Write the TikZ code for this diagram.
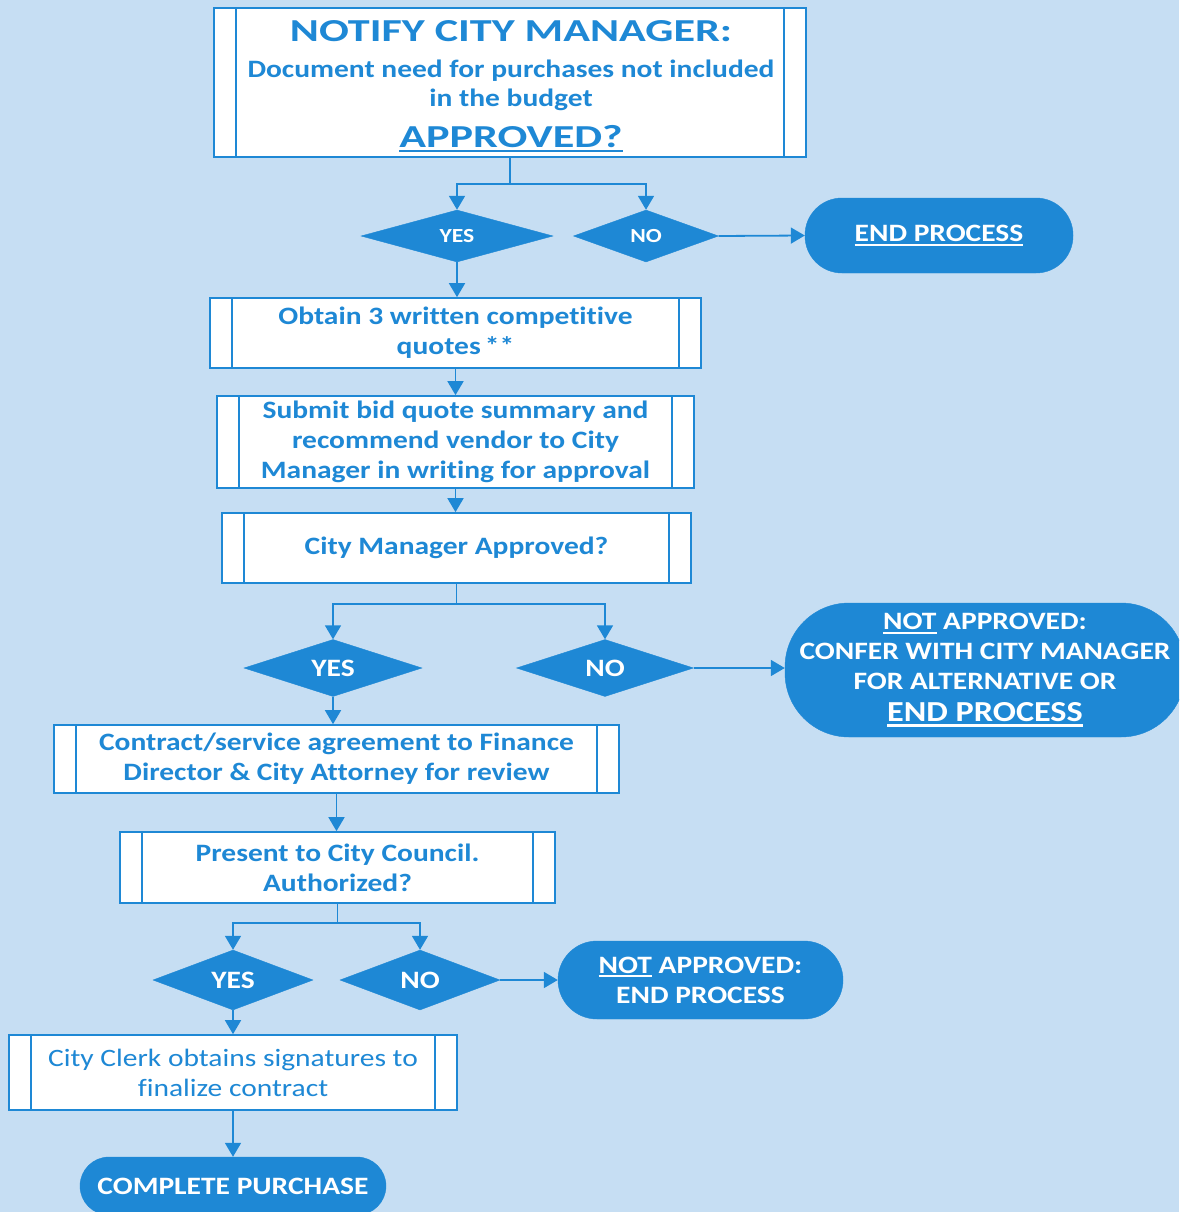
\documentclass[tikz,border=0pt]{standalone}
\usepackage{fontspec}
\setmainfont{Carlito}[FakeStretch=1.18, Ligatures={NoCommon}]
\newfontfamily\titlefont{Carlito}[FakeStretch=1.38, Ligatures={NoCommon}]
\usetikzlibrary{arrows.meta,shapes.geometric}
\definecolor{bg}{RGB}{198,222,243}
\definecolor{fc}{RGB}{30,136,213}
\newcommand\fs{\fontsize{25}{30}\selectfont}
\newsavebox\ulbox
\newcommand\myul[1]{\sbox\ulbox{#1}\usebox\ulbox\llap{\vrule width\wd\ulbox height -0.09em depth 0.16em}}
\newcommand\innerlines[1]{\draw[draw=fc, line width=1.4pt] ([xshift=23]#1.north west) -- ([xshift=23]#1.south west) ([xshift=-23]#1.north east) -- ([xshift=-23]#1.south east);}
\begin{document}
\begin{tikzpicture}[x=1pt,y=-1pt,
 proc/.style={draw=fc, line width=1.7pt, fill=white, text=fc, font=\fs\bfseries, align=center, inner sep=0pt},
 dia/.style={diamond, aspect=3, fill=fc, draw=fc, text=white, font=\fs\bfseries, inner sep=0pt},
 term/.style={fill=fc, draw=fc, text=white, font=\fs\bfseries, align=center, inner sep=0pt},
 arr/.style={draw=fc, line width=1.8pt, -{Triangle[width=16pt,length=14pt]}},
]
\useasboundingbox (0,0) rectangle (1179,1212);
\fill[bg] (0,0) rectangle (1179,1212);
\begin{scope}
\clip (0,0) rectangle (1179,1212);
% box 1
\node[proc, minimum width=592pt, minimum height=149pt] (b1) at (510,82.5) {};
\innerlines{b1}
\node[font=\titlefont\fontsize{32}{36}\selectfont\bfseries, text=fc, anchor=base, inner sep=0pt] (b1t) at (511,42) {NOTIFY CITY MANAGER:};
\node[font=\fs\bfseries, text=fc, anchor=base, inner sep=0pt] (b1a) at (511,78) {Document need for purchases not included};
\node[font=\fs\bfseries, text=fc, anchor=base, inner sep=0pt] (b1b) at (511,107) {in the budget};
\node[font=\titlefont\fontsize{32}{36}\selectfont\bfseries, text=fc, anchor=base, inner sep=0pt] (b1c) at (511,147) {\myul{APPROVED?}};
% process boxes
\node[proc, minimum width=491pt, minimum height=70pt] (b2) at (455.5,333) {Obtain 3 written competitive\\quotes\,**};
\innerlines{b2}
\node[proc, minimum width=477pt, minimum height=92pt] (b3) at (455.5,442) {Submit bid quote summary and\\recommend vendor to City\\Manager in writing for approval};
\innerlines{b3}
\node[proc, minimum width=469pt, minimum height=70pt] (b4) at (456.5,548) {City Manager Approved?};
\innerlines{b4}
\node[proc, minimum width=565pt, minimum height=68pt] (b5) at (336.5,759) {Contract/service agreement to Finance\\Director \& City Attorney for review};
\innerlines{b5}
\node[proc, minimum width=435pt, minimum height=71pt] (b6) at (337.5,867.5) {Present to City Council.\\Authorized?};
\innerlines{b6}
\node[proc, font=\fs, minimum width=448pt, minimum height=75pt] (b7) at (233,1072.5) {City Clerk obtains signatures to\\finalize contract};
\innerlines{b7}
% diamonds
\node[dia, font=\fontsize{20}{24}\selectfont\bfseries, minimum width=192pt, minimum height=52pt] (d1y) at (457,236) {YES};
\node[dia, font=\fontsize{20}{24}\selectfont\bfseries, minimum width=145pt, minimum height=52pt] (d1n) at (646,236) {NO};
\node[dia, minimum width=178pt, minimum height=57pt] (d2y) at (333,668) {YES};
\node[dia, minimum width=177pt, minimum height=57pt] (d2n) at (605,668) {NO};
\node[dia, minimum width=160pt, minimum height=60pt] (d3y) at (233,980) {YES};
\node[dia, minimum width=160pt, minimum height=60pt] (d3n) at (420,980) {NO};
% terminals
\node[term, rounded corners=37pt, minimum width=268pt, minimum height=75pt] (t1) at (939,235.5) {\raisebox{-3pt}{\myul{END PROCESS}}};
\node[term, rounded corners=64pt, minimum width=400pt, minimum height=134pt] (t2) at (985,670) {\myul{NOT} APPROVED:\\CONFER WITH CITY MANAGER\\FOR ALTERNATIVE OR\\[2pt]{\fontsize{29}{32}\selectfont\myul{END PROCESS}}};
\node[term, rounded corners=39pt, minimum width=285pt, minimum height=78pt] (t3) at (700.5,980) {\myul{NOT} APPROVED:\\END PROCESS};
\node[term, rounded corners=29pt, minimum width=306pt, minimum height=58pt] (t4) at (233,1186) {COMPLETE PURCHASE};
% connectors
\draw[arr] (b1.south) -- ++(0,26) -| (d1y.north);
\draw[arr] (b1.south) -- ++(0,26) -| (d1n.north);
\draw[arr] (d1n.east) -- (t1.west);
\draw[arr] (d1y.south) -- (d1y.south |- b2.north);
\draw[arr] (b2.south) -- (b3.north);
\draw[arr] (b3.south) -- (b3.south |- b4.north);
\draw[arr] (b4.south) -- ++(0,20) -| (d2y.north);
\draw[arr] (b4.south) -- ++(0,20) -| (d2n.north);
\draw[arr] (d2n.east) -- (d2n.east -| t2.west);
\draw[arr] (d2y.south) -- (d2y.south |- b5.north);
\draw[arr] (b5.south) -- (b5.south |- b6.north);
\draw[arr] (b6.south) -- ++(0,19) -| (d3y.north);
\draw[arr] (b6.south) -- ++(0,19) -| (d3n.north);
\draw[arr] (d3n.east) -- (d3n.east -| t3.west);
\draw[arr] (d3y.south) -- (b7.north);
\draw[arr] (b7.south) -- (t4.north);
\end{scope}
\end{tikzpicture}
\end{document}
